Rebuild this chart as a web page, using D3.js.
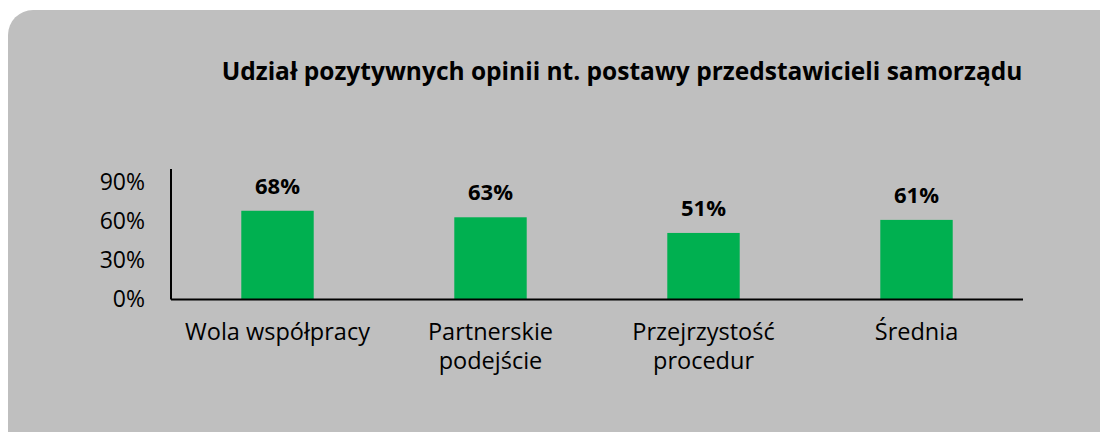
<!DOCTYPE html>
<html>
<head>
<meta charset="utf-8">
<script src="https://cdn.jsdelivr.net/npm/d3@7"></script>
<style>
  body { margin: 0; background: #fff; }
  svg { display: block; font-family: "Open Sans", sans-serif; }
</style>
</head>
<body>
<div id="chart"></div>
<script>
const title = 'Udział pozytywnych opinii nt. postawy przedstawicieli samorządu';
const categories = ['Wola współpracy', 'Partnerskie podejście', 'Przejrzystość procedur', 'Średnia'];
const values = [0.68, 0.63, 0.51, 0.61];
const yTicks = [0, 0.3, 0.6, 0.9];

const width = 1100, height = 432;
const margin = {top: 169, right: 77, bottom: 132.5, left: 171};

const svg = d3.select('#chart').append('svg')
    .attr('width', width)
    .attr('height', height);

// grey card behind everything
svg.append('rect')
    .attr('x', 8).attr('y', 10)
    .attr('width', width + 40).attr('height', height + 40)
    .attr('rx', 25).attr('ry', 25)
    .attr('fill', '#bfbfbf');

svg.append('text')
    .attr('x', 622).attr('y', 80)
    .attr('text-anchor', 'middle')
    .attr('font-size', 24.5)
    .attr('font-weight', 'bold')
    .attr('fill', '#000')
    .text(title);

const x = d3.scaleBand()
    .domain(categories)
    .range([margin.left, width - margin.right])
    .paddingInner(0.66)
    .paddingOuter(0.33);

const y = d3.scaleLinear()
    .domain([0, 1])
    .range([height - margin.bottom, margin.top]);

const g = svg.append('g');

g.selectAll('rect.bar')
    .data(values)
    .join('rect')
    .attr('class', 'bar')
    .attr('x', (d, i) => x(categories[i]))
    .attr('width', x.bandwidth())
    .attr('y', d => y(d))
    .attr('height', d => y(0) - y(d))
    .attr('fill', '#00b050');

g.selectAll('text.val')
    .data(values)
    .join('text')
    .attr('class', 'val')
    .attr('x', (d, i) => x(categories[i]) + x.bandwidth() / 2)
    .attr('y', d => y(d) - 17)
    .attr('text-anchor', 'middle')
    .attr('font-size', 22)
    .attr('font-weight', 'bold')
    .text(d => d3.format('.0%')(d));

// y axis
const yAxis = g.append('g')
    .attr('transform', `translate(${margin.left},0)`)
    .call(d3.axisLeft(y).tickValues(yTicks).tickFormat(d3.format('.0%')).tickSize(0).tickPadding(26));
yAxis.select('.domain').attr('d', `M0,${y(1)}V${y(0)}`).attr('stroke', '#000').attr('stroke-width', 2);
yAxis.selectAll('text').attr('font-size', 23).attr('fill', '#000').attr('font-family', '"Open Sans", sans-serif');

// x axis
const xAxis = g.append('g')
    .attr('transform', `translate(0,${y(0)})`)
    .call(d3.axisBottom(x).tickSize(0).tickPadding(0));
xAxis.select('.domain').attr('d', `M${margin.left},0H${width - margin.right}`).attr('stroke', '#000').attr('stroke-width', 2);
xAxis.selectAll('text').remove();

const catLabels = g.append('g');
categories.forEach((c, i) => {
    const t = catLabels.append('text')
        .attr('x', x(c) + x.bandwidth() / 2)
        .attr('y', 340)
        .attr('text-anchor', 'middle')
        .attr('font-size', 23.5)
        .attr('fill', '#000');
    wrap(t, c, 200);
});

function wrap(textSel, str, maxW) {
    const words = str.split(' ');
    let line = [];
    const cx = textSel.attr('x');
    let tspan = textSel.append('tspan').attr('x', cx).attr('dy', 0);
    words.forEach(w => {
        line.push(w);
        tspan.text(line.join(' '));
        if (tspan.node().getComputedTextLength() > maxW && line.length > 1) {
            line.pop();
            tspan.text(line.join(' '));
            line = [w];
            tspan = textSel.append('tspan').attr('x', cx).attr('dy', 29).text(w);
        }
    });
}
</script>
</body>
</html>
